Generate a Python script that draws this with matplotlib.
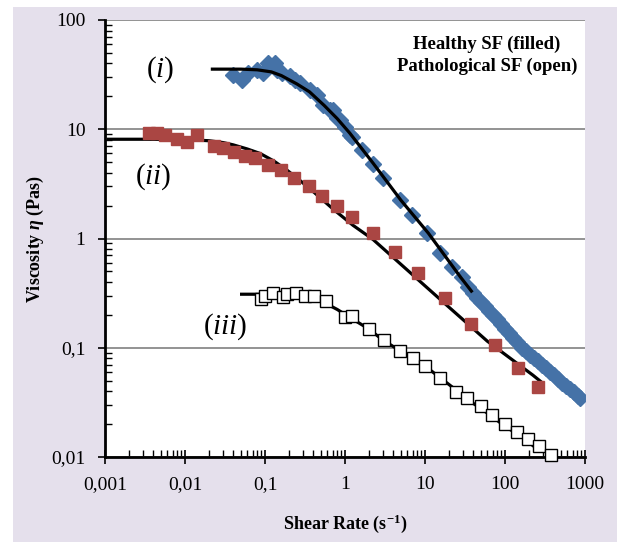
import numpy as np
import matplotlib
matplotlib.use('Agg')
import matplotlib.pyplot as plt
from matplotlib.ticker import LogLocator, NullFormatter
from matplotlib.patches import Rectangle

plt.rcParams['font.family'] = ['Liberation Serif', 'DejaVu Serif']
plt.rcParams['mathtext.fontset'] = 'custom'
plt.rcParams['mathtext.rm'] = 'Liberation Serif'
plt.rcParams['mathtext.it'] = 'Liberation Serif:italic'
plt.rcParams['mathtext.bf'] = 'Liberation Serif:bold'
plt.rcParams['mathtext.bfit'] = 'Liberation Serif:italic:bold'

# healthy SF (i) - filled diamonds
healthy_rate = [0.04, 0.051, 0.062, 0.079, 0.095, 0.11, 0.133, 0.141, 0.162, 0.204,
                0.234, 0.275, 0.363, 0.447, 0.537, 0.646, 0.71, 0.794, 0.87, 1.0,
                1.15, 1.23, 1.62, 2.24, 2.99, 4.9, 6.9, 10.7, 15.5, 21.9, 28.8, 34.7,
                39.8, 44.7, 50.1, 56.2, 63.1, 70.8, 79.4, 89.1, 100, 112, 126, 141,
                162, 182, 204, 229, 257, 288, 324, 363, 407, 457, 513, 575, 646, 724,
                813, 871]
healthy_visc = [31.4, 28, 32.7, 35, 33, 40.6, 40.7, 35, 33, 31,
                28, 26.5, 23, 20.5, 16.6, 15, 15, 12.6, 12.2, 10.5,
                8.9, 8.5, 6.5, 4.8, 3.6, 2.24, 1.64, 1.12, 0.74, 0.55, 0.44, 0.36,
                0.316, 0.288, 0.263, 0.240, 0.219, 0.200, 0.182, 0.164, 0.150, 0.136,
                0.124, 0.112, 0.100, 0.093, 0.086, 0.080, 0.075, 0.069, 0.065, 0.060,
                0.056, 0.052, 0.048, 0.045, 0.042, 0.039, 0.036, 0.035]

# healthy SF (ii) - filled squares
healthy2_rate = [0.0035, 0.0045, 0.0056, 0.0079, 0.0105, 0.014, 0.023, 0.030, 0.041,
                 0.056, 0.075, 0.11, 0.158, 0.23, 0.35, 0.51, 0.79, 1.23, 2.24, 4.2,
                 8.1, 17.8, 37.6, 75, 145, 257]
healthy2_visc = [9.2, 9.2, 8.9, 8.1, 7.7, 8.9, 7.0, 6.7, 6.2,
                 5.7, 5.4, 4.7, 4.2, 3.6, 3.0, 2.45, 2.0, 1.58, 1.12, 0.75,
                 0.48, 0.285, 0.166, 0.105, 0.065, 0.044]

# pathological SF (iii) - open squares
patho_rate = [0.089, 0.1, 0.126, 0.168, 0.188, 0.245, 0.316, 0.41, 0.575, 1.0, 1.23,
              2.0, 3.1, 4.9, 7.1, 10, 15.5, 24.5, 33.5, 50, 69, 100, 141, 195, 269, 380]
patho_visc = [0.28, 0.30, 0.32, 0.29, 0.31, 0.32, 0.30, 0.30, 0.27, 0.19, 0.195,
              0.148, 0.117, 0.093, 0.08, 0.068, 0.053, 0.039, 0.035, 0.029, 0.024,
              0.020, 0.017, 0.0146, 0.0126, 0.0105]

# model fits
fit1_rate = [0.022, 0.05, 0.08, 0.12, 0.16, 0.25, 0.36, 0.55, 0.8, 1.15, 2.24, 5, 11, 28, 38]
fit1_visc = [35.5, 35.5, 35, 33.5, 31, 26, 22, 16.5, 12.5, 9.2, 4.9, 2.24, 1.12, 0.44, 0.33]

fit2_rate = [0.0011, 0.003, 0.01, 0.02, 0.03, 0.04, 0.06, 0.087, 0.13, 0.19, 0.28, 0.4,
             0.71, 1.26, 2.24, 5.0, 18.7, 60, 224, 290]
fit2_visc = [8.1, 8.1, 8.05, 7.85, 7.55, 7.2, 6.6, 6.0, 5.1, 4.2, 3.35, 2.69,
             1.86, 1.32, 0.98, 0.58, 0.245, 0.115, 0.056, 0.048]

fit3_rate = [0.051, 0.1, 0.2, 0.3, 0.5, 0.8, 1.2, 2, 3, 5, 10, 20, 40, 70, 100, 160, 257]
fit3_visc = [0.309, 0.309, 0.302, 0.295, 0.269, 0.224, 0.186, 0.148, 0.117, 0.093,
             0.068, 0.046, 0.031, 0.0234, 0.019, 0.0155, 0.0117]

x_ticks = [1e-3, 1e-2, 1e-1, 1, 10, 100, 1000]
x_labels = ['0,001', '0,01', '0,1', '1', '10', '100', '1000']
y_ticks = [1e-2, 1e-1, 1, 10, 100]
y_labels = ['0,01', '0,1', '1', '10', '100']

fig = plt.figure(figsize=(6.17, 5.42), dpi=100)
fig.patches.append(Rectangle((13 / 617, 0), 1, (542 - 7) / 542, transform=fig.transFigure,
                             facecolor='#E5E0EC', edgecolor='none', zorder=-10))
ax = fig.add_axes([105 / 617, 85 / 542, 480 / 617, 437 / 542])
ax.set_facecolor('white')

ax.plot(healthy_rate, healthy_visc, 'D', color='#4572A7', ms=8.5, mec='#4572A7', zorder=3)
ax.plot(fit1_rate, fit1_visc, color='black', lw=2.3, zorder=4)
ax.plot(fit2_rate, fit2_visc, color='black', lw=2.3, zorder=4)
ax.plot(healthy2_rate, healthy2_visc, 's', color='#AA4643', ms=8, mec='#AA4643', zorder=5)
ax.plot(fit3_rate, fit3_visc, color='black', lw=2.3, zorder=4)
ax.plot(patho_rate, patho_visc, 's', mfc='white', mec='black', mew=1, ms=8.5, zorder=5,
        clip_on=False)

ax.set_xscale('log')
ax.set_yscale('log')
ax.set_xlim(1e-3, 1e3)
ax.set_ylim(1e-2, 1e2)
ax.set_xticks(x_ticks)
ax.set_xticklabels(x_labels)
ax.set_yticks(y_ticks)
ax.set_yticklabels(y_labels)
ax.xaxis.set_minor_locator(LogLocator(base=10, subs=np.arange(2, 10)))
ax.yaxis.set_minor_locator(LogLocator(base=10, subs=np.arange(2, 10)))
ax.xaxis.set_minor_formatter(NullFormatter())
ax.yaxis.set_minor_formatter(NullFormatter())

ax.yaxis.grid(True, which='major', color='#808080', lw=1.2, zorder=1)
ax.set_axisbelow(True)

for s in ['top', 'right']:
    ax.spines[s].set_visible(False)
for s in ['left', 'bottom']:
    ax.spines[s].set_linewidth(2)

ax.tick_params(axis='x', which='major', direction='inout', length=10, width=1.2,
               labelsize=14, pad=9)
ax.tick_params(axis='x', which='minor', direction='in', length=5, width=1)
ax.tick_params(axis='y', which='major', direction='out', length=5, width=1.2,
               labelsize=14, pad=9)
ax.tick_params(axis='y', which='minor', direction='in', length=5, width=1)

ax.set_xlabel(r'Shear Rate (s$^{\mathbf{-1}}$)', fontsize=13, fontweight='bold', labelpad=14)
ax.set_ylabel(r'Viscosity $\mathbfit{\eta}$ (Pas)', fontsize=13, fontweight='bold', labelpad=4)

ax.text(0.0049, 35, r'$(i)$', fontsize=21, ha='center', va='center')
ax.text(0.004, 3.66, r'$(ii)$', fontsize=21, ha='center', va='center')
ax.text(0.0316, 0.155, r'$(iii)$', fontsize=21, ha='center', va='center')

ax.text(0.796, 0.92, 'Healthy SF (filled)\nPathological SF (open)', transform=ax.transAxes,
        ha='center', va='center', fontsize=13.5, fontweight='bold', linespacing=1.35)

fig.savefig('out.png', dpi=100)
